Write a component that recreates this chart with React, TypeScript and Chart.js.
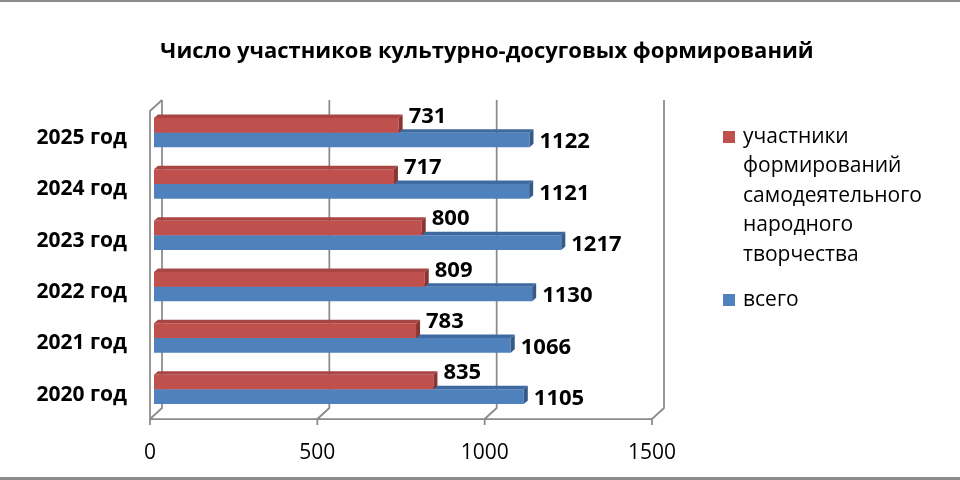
import React, { useEffect, useRef } from 'react';
import { Chart, registerables } from 'chart.js';

Chart.register(...registerables);

const categories = ['2025 год', '2024 год', '2023 год', '2022 год', '2021 год', '2020 год'];
const participants = [731, 717, 800, 809, 783, 835];
const total = [1122, 1121, 1217, 1130, 1066, 1105];
const xTicks = [0, 500, 1000, 1500];
const participantsName = ['участники', 'формирований', 'самодеятельного', 'народного', 'творчества'];
const totalName = ['всего'];
const chartTitle = 'Число участников культурно-досуговых формирований';

const FONT = "'Open Sans', sans-serif";
const RED = '#C0504D';
const BLUE = '#4F81BD';
const shades = [
    { top: '#a94643', side: '#8b3532' },
    { top: '#3d6aa1', side: '#365b88' },
];
// смещения "3D" стенок относительно плоскости баров
const BACK = { dx: 8, dy: -7 };
const FRONT = { dx: -4, dy: 4 };
const DEPTH = { dx: 4, dy: -3.5 };
const legendLines = [participantsName, totalName];

const excel3d = {
    id: 'excel3d',
    beforeDraw(chart: any) {
        const { ctx, width, height, chartArea: a } = chart;
        const xs = chart.scales.x;
        ctx.save();
        ctx.fillStyle = '#fff';
        ctx.fillRect(0, 0, width, height);

        ctx.strokeStyle = '#8c8c8c';
        ctx.lineWidth = 2;
        ctx.beginPath();
        ctx.moveTo(0, 1);
        ctx.lineTo(width, 1);
        ctx.stroke();
        ctx.lineWidth = 3;
        ctx.beginPath();
        ctx.moveTo(0, height - 1.5);
        ctx.lineTo(width, height - 1.5);
        ctx.stroke();

        ctx.fillStyle = '#000';
        ctx.font = `bold 22px ${FONT}`;
        ctx.textAlign = 'center';
        ctx.textBaseline = 'middle';
        ctx.fillText(chartTitle, 487, 52);

        ctx.strokeStyle = '#8a8a8a';
        ctx.lineWidth = 1.75;
        const bTop = a.top + BACK.dy;
        const bBot = a.bottom + BACK.dy;
        const fBot = a.bottom + FRONT.dy;
        ctx.beginPath();
        xTicks.forEach((v) => {
            const px = xs.getPixelForValue(v);
            ctx.moveTo(px + BACK.dx, bTop);
            ctx.lineTo(px + BACK.dx, bBot);
            ctx.lineTo(px + FRONT.dx, fBot);
            ctx.lineTo(px + FRONT.dx, fBot + 6);
        });
        const x0 = xs.getPixelForValue(xTicks[0]);
        const x1 = xs.getPixelForValue(xTicks[xTicks.length - 1]);
        ctx.moveTo(x0 + FRONT.dx, fBot);
        ctx.lineTo(x1 + FRONT.dx, fBot);
        ctx.moveTo(x0 + FRONT.dx, fBot);
        ctx.lineTo(x0 + FRONT.dx, a.top + FRONT.dy);
        ctx.lineTo(x0 + BACK.dx, bTop);
        ctx.stroke();
        ctx.restore();
    },
    afterDatasetDraw(chart: any, args: any) {
        const { ctx } = chart;
        const s = shades[args.index];
        ctx.save();
        args.meta.data.forEach((bar: any) => {
            const { x, y, base, height } = bar.getProps(['x', 'y', 'base', 'height'], true);
            const top = y - height / 2;
            const bottom = y + height / 2;
            ctx.fillStyle = s.top;
            ctx.beginPath();
            ctx.moveTo(base, top);
            ctx.lineTo(x, top);
            ctx.lineTo(x + DEPTH.dx, top + DEPTH.dy);
            ctx.lineTo(base + DEPTH.dx, top + DEPTH.dy);
            ctx.closePath();
            ctx.fill();
            ctx.fillStyle = s.side;
            ctx.beginPath();
            ctx.moveTo(x, top);
            ctx.lineTo(x, bottom);
            ctx.lineTo(x + DEPTH.dx, bottom + DEPTH.dy);
            ctx.lineTo(x + DEPTH.dx, top + DEPTH.dy);
            ctx.closePath();
            ctx.fill();
        });
        ctx.restore();
    },
    afterDatasetsDraw(chart: any) {
        const { ctx } = chart;
        ctx.save();
        ctx.fillStyle = '#000';
        ctx.font = `bold 22px ${FONT}`;
        ctx.textAlign = 'left';
        ctx.textBaseline = 'middle';
        chart.data.datasets.forEach((ds: any, i: number) => {
            const meta = chart.getDatasetMeta(i);
            meta.data.forEach((bar: any, j: number) => {
                const { x, y } = bar.getProps(['x', 'y'], true);
                ctx.fillText(String(ds.data[j]), x + 10, y + (i === 0 ? -9 : 2));
            });
        });

        // легенда
        ctx.font = `21px ${FONT}`;
        let ly = 137;
        chart.data.datasets.forEach((ds: any, i: number) => {
            ctx.fillStyle = ds.backgroundColor;
            ctx.fillRect(723, ly - 6, 12, 12);
            ctx.fillStyle = '#000';
            legendLines[i].forEach((t: string, k: number) => {
                ctx.fillText(t, 743, ly + k * 29.5);
            });
            ly += (legendLines[i].length - 1) * 29.5 + 45;
        });
        ctx.restore();
    },
};

const App = () => {
    const chartRef = useRef<HTMLCanvasElement | null>(null);

    useEffect(() => {
        document.body.style.margin = '0';
        if (!chartRef.current) return;
        const ctx = chartRef.current.getContext('2d');
        if (!ctx) return;

        const myChart = new Chart(ctx, {
            type: 'bar',
            data: {
                labels: categories,
                datasets: [
                    { label: participantsName.join(' '), data: participants, backgroundColor: RED },
                    { label: totalName.join(' '), data: total, backgroundColor: BLUE },
                ],
            },
            options: {
                indexAxis: 'y',
                responsive: false,
                animation: false,
                datasets: { bar: { categoryPercentage: 0.57, barPercentage: 1 } },
                layout: { padding: { top: 107, right: 304, left: 0, bottom: 0 } },
                plugins: {
                    legend: { display: false },
                    title: { display: false },
                    tooltip: { enabled: false },
                },
                scales: {
                    x: {
                        min: 0,
                        max: 1500,
                        afterBuildTicks: (scale: any) => {
                            scale.ticks = xTicks.map((v) => ({ value: v }));
                        },
                        afterFit: (scale: any) => {
                            scale.height = 65;
                        },
                        grid: { display: false, drawTicks: false },
                        border: { display: false },
                        ticks: {
                            labelOffset: -4,
                            padding: 25,
                            color: '#000',
                            font: { family: FONT, size: 21 },
                            callback: (v: any) => String(v),
                        },
                    },
                    y: {
                        afterFit: (scale: any) => {
                            scale.width = 154;
                        },
                        grid: { display: false, drawTicks: false },
                        border: { display: false },
                        ticks: {
                            labelOffset: 5.5,
                            padding: 27,
                            color: '#000',
                            font: { family: FONT, size: 21, weight: 'bold' },
                        },
                    },
                },
            },
            plugins: [excel3d],
        });

        return () => {
            myChart.destroy();
        };
    }, []);

    return (
        <div style={{ width: 960, height: 480 }}>
            <canvas ref={chartRef} width={960} height={480}></canvas>
        </div>
    );
};

export default App;
